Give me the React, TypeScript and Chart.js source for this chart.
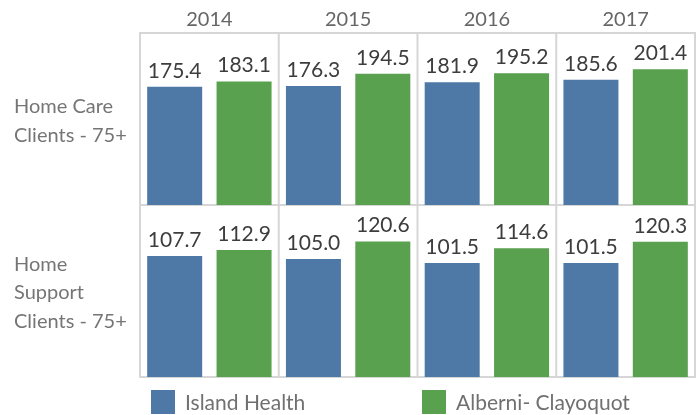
import React, { useEffect, useRef } from 'react';
import { Chart, registerables } from 'chart.js';

Chart.register(...registerables);

// ---- data ----
const years = ['2014', '2015', '2016', '2017'];
const seriesNames = ['Island Health', 'Alberni- Clayoquot'];
const rowLabelLines = [
  ['Home Care', 'Clients - 75+'],
  ['Home', 'Support', 'Clients - 75+'],
];
const homeCareIslandHealth = [175.4, 176.3, 181.9, 185.6];
const homeCareAlberni = [183.1, 194.5, 195.2, 201.4];
const homeSupportIslandHealth = [107.7, 105.0, 101.5, 101.5];
const homeSupportAlberni = [112.9, 120.6, 114.6, 120.3];
const seriesColors = ['#4e79a7', '#59a14f'];

// one category per (year, series) slot
const categories = years.flatMap((y) => seriesNames.map((s) => `${y} ${s}`));
const slot = (values: number[], k: number) =>
  categories.map((_, i) => (i % 2 === k ? values[Math.floor(i / 2)] : null));

const FONT = 'Lato';
const LINE = '#d6d6d6';

const framePlugin = {
  id: 'tableauFrame',
  beforeDatasetsDraw(chart: any) {
    const { ctx, chartArea, scales } = chart;
    const x2 = scales.x2;
    const rows = [scales.yTop, scales.yBot];
    ctx.save();
    ctx.strokeStyle = LINE;
    ctx.lineWidth = 2;
    ctx.beginPath();
    // vertical cell borders
    const xs: number[] = [chartArea.left];
    for (let i = 1; i < years.length; i++) {
      xs.push((x2.getPixelForValue(i - 1) + x2.getPixelForValue(i)) / 2);
    }
    xs.push(chartArea.right);
    xs.forEach((x) => {
      ctx.moveTo(x, chartArea.top);
      ctx.lineTo(x, chartArea.bottom);
    });
    // horizontal cell borders
    const ys = [rows[0].top, rows[0].bottom, rows[1].bottom];
    ys.forEach((y) => {
      ctx.moveTo(chartArea.left - 1, y);
      ctx.lineTo(chartArea.right + 1, y);
    });
    ctx.stroke();

    // row headers
    ctx.fillStyle = '#757575';
    ctx.font = `20px ${FONT}`;
    ctx.textAlign = 'left';
    ctx.textBaseline = 'middle';
    rows.forEach((sc: any, r: number) => {
      const lines = rowLabelLines[r];
      const mid = (sc.top + sc.bottom) / 2 + 2;
      lines.forEach((t, k) => {
        ctx.fillText(t, 14, mid + (k - (lines.length - 1) / 2) * 28.5);
      });
    });
    ctx.restore();
  },
  afterDatasetsDraw(chart: any) {
    const { ctx } = chart;
    ctx.save();
    ctx.fillStyle = '#3d3d3d';
    ctx.font = `21px ${FONT}`;
    ctx.textAlign = 'center';
    ctx.textBaseline = 'alphabetic';
    chart.data.datasets.forEach((ds: any, i: number) => {
      const meta = chart.getDatasetMeta(i);
      meta.data.forEach((el: any, j: number) => {
        const v = ds.data[j];
        if (v === null || v === undefined) return;
        ctx.fillText(v.toFixed(1), el.x, el.y - 9);
      });
    });
    ctx.restore();
  },
  afterDraw(chart: any) {
    const { ctx, chartArea } = chart;
    ctx.save();
    const offsets = [11, 282];
    const top = chartArea.bottom + 13;
    ctx.font = `21px ${FONT}`;
    ctx.textAlign = 'left';
    ctx.textBaseline = 'alphabetic';
    seriesNames.forEach((name, i) => {
      const x = chartArea.left + offsets[i];
      ctx.fillStyle = seriesColors[i];
      ctx.fillRect(x, top, 24, 24);
      ctx.fillStyle = '#707070';
      ctx.fillText(name, x + 34, top + 20);
    });
    ctx.restore();
  },
};

export default function App() {
  const ref = useRef<HTMLCanvasElement>(null);

  useEffect(() => {
    const canvas = ref.current;
    if (!canvas) return;
    const hidden = { display: false, drawTicks: false };
    const chart = new Chart(canvas, {
      type: 'bar',
      data: {
        labels: categories,
        datasets: [
          { label: seriesNames[0], data: slot(homeCareIslandHealth, 0), yAxisID: 'yTop', backgroundColor: seriesColors[0], stack: 'cell' },
          { label: seriesNames[1], data: slot(homeCareAlberni, 1), yAxisID: 'yTop', backgroundColor: seriesColors[1], stack: 'cell' },
          { label: seriesNames[0], data: slot(homeSupportIslandHealth, 0), yAxisID: 'yBot', backgroundColor: seriesColors[0], stack: 'cell' },
          { label: seriesNames[1], data: slot(homeSupportAlberni, 1), yAxisID: 'yBot', backgroundColor: seriesColors[1], stack: 'cell' },
        ] as any,
      },
      options: {
        responsive: false,
        animation: false,
        layout: { padding: { left: 0, right: 4, top: 0, bottom: 0 } },
        plugins: { legend: { display: false }, tooltip: { enabled: false } },
        datasets: { bar: { barPercentage: 0.793, categoryPercentage: 1, skipNull: true } as any },
        scales: {
          x: {
            type: 'category',
            position: 'bottom',
            offset: true,
            grid: hidden,
            border: { display: false },
            ticks: { display: false },
            afterFit: (s: any) => { s.height = 38; },
          },
          x2: {
            type: 'category',
            labels: years,
            position: 'top',
            offset: true,
            grid: hidden,
            border: { display: false },
            ticks: { color: '#666666', font: { family: FONT, size: 20 }, padding: 1.5, maxRotation: 0, autoSkip: false },
            afterFit: (s: any) => { s.height = 33; },
          },
          yTop: {
            type: 'linear',
            position: 'left',
            stack: 'rows',
            stackWeight: 1,
            weight: 1,
            min: 0,
            max: 255,
            stacked: false,
            grid: hidden,
            border: { display: false },
            ticks: { display: false },
            afterFit: (s: any) => { s.width = 140; },
          },
          yBot: {
            type: 'linear',
            position: 'left',
            stack: 'rows',
            stackWeight: 1,
            weight: 0,
            min: 0,
            max: 153,
            stacked: false,
            grid: hidden,
            border: { display: false },
            ticks: { display: false },
            afterFit: (s: any) => { s.width = 140; },
          },
        } as any,
      },
      plugins: [framePlugin],
    });
    return () => chart.destroy();
  }, []);

  return (
    <div style={{ position: 'fixed', left: 0, top: 0, width: 699, height: 415, background: '#ffffff' }}>
      <canvas ref={ref} width={699} height={415} style={{ display: 'block' }} />
    </div>
  );
}
